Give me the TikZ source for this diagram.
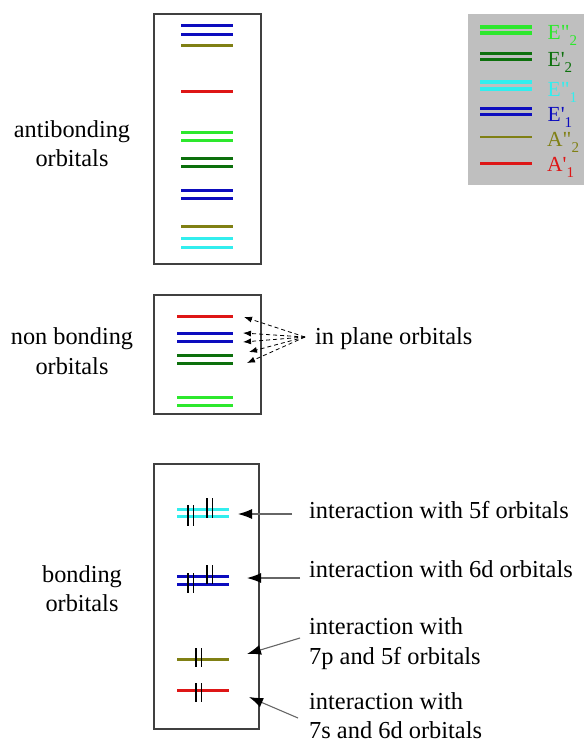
\documentclass[tikz,border=0pt]{standalone}
\usepackage{fontspec}
\setmainfont{Liberation Serif}
\usetikzlibrary{arrows.meta}
\definecolor{lgreen}{RGB}{45,232,45}
\definecolor{dgreen}{RGB}{12,112,12}
\definecolor{cyanc}{RGB}{50,238,238}
\definecolor{bluec}{RGB}{12,12,190}
\definecolor{olivec}{RGB}{128,128,20}
\definecolor{redc}{RGB}{222,22,22}
\definecolor{leggray}{RGB}{191,191,191}
\newcommand{\legsub}[1]{\raisebox{-6pt}{\fontsize{15}{15}\selectfont #1}}
\begin{document}
\begin{tikzpicture}[x=1pt,y=-1pt,
  lvl/.style={line width=3pt},
  framebox/.style={draw=black!75,line width=1.2pt},
  lbl/.style={font=\fontsize{24.3}{29}\selectfont,inner sep=0pt,anchor=base},
  rlbl/.style={font=\fontsize{24.4}{29}\selectfont,inner sep=0pt,anchor=base west},
  leglbl/.style={font=\fontsize{21.5}{24}\selectfont,inner sep=0pt,anchor=base west},
  elec/.style={black,line width=1.5pt},
  ptr/.style={draw=black!60,line width=1.1pt,-{Latex[length=14pt,width=10pt,black]}},
  dptr/.style={black,dashed,dash pattern=on 4pt off 3pt,line width=0.8pt,-{Latex[length=8pt,width=6pt,black]}}]
\useasboundingbox (0,0) rectangle (584,742);
\fill[white] (0,0) rectangle (584,742);

% boxes
\draw[framebox] (154,14) rectangle (261,264);
\draw[framebox] (154,295) rectangle (261,414);
\draw[framebox] (154,464) rectangle (259,729);

% antibonding levels
\foreach \y/\c in {25.3/bluec,34/bluec,45.7/olivec,91.7/redc,132/lgreen,140/lgreen,158/dgreen,166/dgreen,190.3/bluec,198.3/bluec,226/olivec,238.7/cyanc,247.3/cyanc}
  \draw[lvl,\c] (181,\y) -- (233,\y);

% non bonding levels
\foreach \y/\c in {316/redc,333.3/bluec,341.3/bluec,355.7/dgreen,363.3/dgreen,397.7/lgreen,405.7/lgreen}
  \draw[lvl,\c] (177,\y) -- (233,\y);

% bonding levels
\foreach \y/\c in {509.3/cyanc,516.7/cyanc,576.3/bluec,584.3/bluec,659.3/olivec,690/redc}
  \draw[lvl,\c] (177,\y) -- (229,\y);

% electrons
\foreach \x/\ya/\yb in {188/505/526,193.5/505/526,207/498/518,212.5/498/518,
  188/573/593,193.5/573/593,207/565/584,212.5/565/584,
  196/648/667,201.5/648/667,196/683/702,201.5/683/702}
  \draw[elec] (\x,\ya) -- (\x,\yb);

% left labels
\node[lbl] (ab1) at (72,137) {antibonding};
\node[lbl] (ab2) at (72,166) {orbitals};
\node[lbl] (nb1) at (72,344) {non bonding};
\node[lbl] (nb2) at (72,374) {orbitals};
\node[lbl] (b1) at (82,582) {bonding};
\node[lbl] (b2) at (82,611) {orbitals};

% in plane
\node[rlbl] (ip) at (315,344) {in plane orbitals};
\coordinate (ipt) at (305,337);
\coordinate (t1) at (244,317);
\coordinate (t2) at (243,333);
\coordinate (t3) at (243,342);
\coordinate (t4) at (249,352);
\coordinate (t5) at (247,363);
\foreach \t in {t1,t2,t3,t4,t5}
  \draw[dptr] (ipt) -- (\t);

% right labels
\node[rlbl] (i5f) at (309,518) {interaction with 5f orbitals};
\node[rlbl] (i6d) at (309,577) {interaction with 6d orbitals};
\node[rlbl] (i7pa) at (309,634) {interaction with};
\node[rlbl] (i7pb) at (309,664) {7p and 5f orbitals};
\node[rlbl] (i7sa) at (309,709) {interaction with};
\node[rlbl] (i7sb) at (309,738) {7s and 6d orbitals};

\coordinate (a1s) at (292,514); \coordinate (a1e) at (238,514);
\coordinate (a2s) at (300,578); \coordinate (a2e) at (247,578);
\coordinate (a3s) at (300,638); \coordinate (a3e) at (247,654);
\coordinate (a4s) at (298,718); \coordinate (a4e) at (249,697);
\draw[ptr] (a1s) -- (a1e);
\draw[ptr] (a2s) -- (a2e);
\draw[ptr] (a3s) -- (a3e);
\draw[ptr] (a4s) -- (a4e);

% legend
\fill[leggray] (468,14) rectangle (584,185);
\draw[lvl,lgreen,line width=3.5pt] (480,27) -- (532,27);
\draw[lvl,lgreen,line width=3.5pt] (480,33) -- (532,33);
\draw[lvl,dgreen] (480,53.5) -- (532,53.5);
\draw[lvl,dgreen] (480,59.7) -- (532,59.7);
\draw[lvl,cyanc,line width=3.5pt] (480,82) -- (532,82);
\draw[lvl,cyanc,line width=3.5pt] (480,89) -- (532,89);
\draw[lvl,bluec] (480,108.7) -- (532,108.7);
\draw[lvl,bluec] (480,114.7) -- (532,114.7);
\draw[lvl,olivec,line width=2.6pt] (480,137) -- (532,137);
\draw[lvl,redc] (480,163) -- (532,163);
\node[leglbl,text=lgreen] (le1) at (547.5,39.5) {E\textquotedbl\legsub{2}};
\node[leglbl,text=dgreen] (le2) at (547.5,66) {E\textquotesingle\legsub{2}};
\node[leglbl,text=cyanc] (le3) at (547.5,96) {E\textquotedbl\legsub{1}};
\node[leglbl,text=bluec] (le4) at (547.5,121) {E\textquotesingle\legsub{1}};
\node[leglbl,text=olivec] (le5) at (547,146) {A\textquotedbl\legsub{2}};
\node[leglbl,text=redc] (le6) at (547,171.5) {A\textquotesingle\legsub{1}};
\end{tikzpicture}
\end{document}
